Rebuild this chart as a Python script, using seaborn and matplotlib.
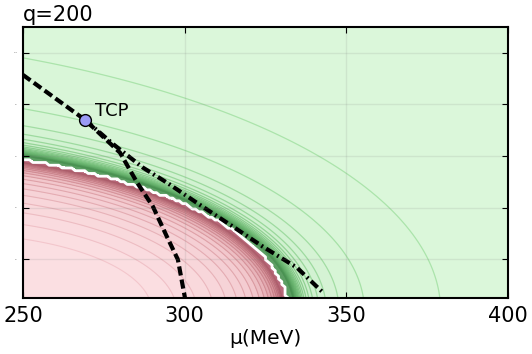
import numpy as np
import matplotlib
matplotlib.use('Agg')
import matplotlib.pyplot as plt
import seaborn as sns
import pandas as pd
from matplotlib.colors import LinearSegmentedColormap

sns.set_style('ticks')
plt.rcParams['font.family'] = ['DejaVu Sans']
plt.rcParams['xtick.direction'] = 'in'
plt.rcParams['ytick.direction'] = 'in'
plt.rcParams['text.color'] = 'black'
plt.rcParams['axes.labelcolor'] = 'black'
plt.rcParams['xtick.color'] = 'black'
plt.rcParams['ytick.color'] = 'black'

# ---- values ----
MU_RANGE = (250, 400)
T_RANGE = (5, 110)
x_ticks = [250, 300, 350, 400]
y_ticks = [20, 40, 60, 80, 100]

# phase boundary (white line): ellipse centre / half axes
BOUND_MU0, BOUND_A, BOUND_B = 200.0, 132.0, 63.3
GREEN_CENTRE = 266.0   # contour lines outside are scaled copies of the boundary
RED_CENTRE = 252.0

# dashed curve (through the TCP)
dash_mu = [250.0, 269.2, 280.0, 285.3, 290.2, 294.5, 297.9, 300.1]
dash_T = [91.4, 74.0, 61.3, 49.7, 40.4, 28.8, 19.9, 5.0]
# dash-dot curve (starting at the TCP)
dd_mu = [269.2, 278.0, 287.1, 294.5, 304.7, 315.0, 324.2, 334.7, 342.8]
dd_T = [74.0, 64.5, 55.5, 49.7, 41.1, 32.6, 24.9, 16.8, 7.1]
tcp_mu, tcp_T = 269.2, 74.0


def scale_factor(mu, T, centre):
    # s such that centre + (p - centre)/s lies on the boundary ellipse
    dx = mu - centre
    dy = T
    cx = centre - BOUND_MU0
    a = dx**2 / BOUND_A**2 + dy**2 / BOUND_B**2 + 1e-12
    b = 2 * cx * dx / BOUND_A**2
    c = cx**2 / BOUND_A**2 - 1
    u = (-b + np.sqrt(b**2 - 4 * a * c)) / (2 * a)
    return 1.0 / u


def ellipse(mu, T):
    return ((mu - BOUND_MU0) / BOUND_A)**2 + (T / BOUND_B)**2


mu = np.linspace(MU_RANGE[0], MU_RANGE[1], 200)
T = np.linspace(T_RANGE[0], T_RANGE[1], 140)
MU, TT = np.meshgrid(mu, T)
outside = ellipse(MU, TT) > 1

s_g = scale_factor(MU, TT, GREEN_CENTRE)
s_r = scale_factor(MU, TT, RED_CENTRE)
z_g = np.ma.masked_where(~outside, 1.0 / np.clip(s_g - 1, 1e-6, None))
z_r = np.ma.masked_where(outside, -np.log(np.clip(1 - s_r, 1e-6, None)))

# grid for the (slightly jagged) white boundary line
mu_c = np.linspace(MU_RANGE[0], MU_RANGE[1], 150)
T_c = np.linspace(T_RANGE[0], T_RANGE[1], 100)
MUc, TTc = np.meshgrid(mu_c, T_c)
out_c = (ellipse(MUc, TTc) > 1).astype(float)

n_g = 26
lev_g = [0] + [1.4 * k for k in range(1, n_g + 1)] + [1e9]
n_r = 18
lev_r = [0] + [0.64 + 0.2 * k for k in range(n_r)] + [1e9]

cm_g = LinearSegmentedColormap.from_list('g', ['#dbf7da', '#c4eac4', '#86c489', '#5c9e63'])
cm_r = LinearSegmentedColormap.from_list('r', ['#fbdfe2', '#f3c9ce', '#d8949c', '#b8687a'])
col_g = [cm_g((k / (len(lev_g) - 2))**1.1) for k in range(len(lev_g) - 1)]
col_r = [cm_r((k / (len(lev_r) - 2))**1.3) for k in range(len(lev_r) - 1)]
line_g = LinearSegmentedColormap.from_list('lg', ['#a6e2a6', '#6cb872', '#4a9252'])
line_r = LinearSegmentedColormap.from_list('lr', ['#f0bcc3', '#d0888f', '#a85a66'])

fig = plt.figure(figsize=(5.32, 3.54), dpi=100)
ax = fig.add_axes([0.0432, 0.158, 0.9118, 0.766])

ax.contourf(MU, TT, z_g, levels=lev_g, colors=col_g)
ax.contourf(MU, TT, z_r, levels=lev_r, colors=col_r)
ax.contour(MU, TT, z_g, levels=lev_g[1:-1], cmap=line_g, linewidths=0.9, alpha=0.9)
ax.contour(MU, TT, z_r, levels=lev_r[1:-1], cmap=line_r, linewidths=0.8, alpha=0.7)
ax.contour(MUc, TTc, out_c, levels=[0.5], colors='white', linewidths=2.0)

df_dash = pd.DataFrame({'mu': dash_mu, 'T': dash_T})
df_dd = pd.DataFrame({'mu': dd_mu, 'T': dd_T})
sns.lineplot(data=df_dash, x='mu', y='T', sort=False, ax=ax, color='black', lw=3.0)
ax.lines[-1].set_dashes((2.2, 1.0))
sns.lineplot(data=df_dd, x='mu', y='T', sort=False, ax=ax, color='black', lw=3.0)
ax.lines[-1].set_dashes((2.2, 0.9, 0.45, 0.9))
ax.plot([tcp_mu], [tcp_T], 'o', ms=8.5, mfc='#9a9af5', mec='black', mew=1.0, zorder=5)
ax.text(tcp_mu + 3.1, tcp_T + 3.6, 'TCP', fontsize=13, va='center', ha='left')

ax.set_xlim(*MU_RANGE)
ax.set_ylim(*T_RANGE)
ax.set_xticks(x_ticks)
ax.set_yticks(y_ticks)
ax.set_yticklabels([str(v) for v in y_ticks], fontsize=1.5, color='gray')
ax.tick_params(axis='x', labelsize=15, top=True, length=4, pad=6)
ax.tick_params(axis='y', right=True, length=4, pad=4)
ax.grid(True, color='gray', alpha=0.15, lw=1.0)
ax.set_axisbelow(False)
for sp in ax.spines.values():
    sp.set_linewidth(1.5)
    sp.set_color('black')
    sp.set_zorder(10)

ax.set_xlabel('μ(MeV)', fontsize=14.5, labelpad=2)
ax.set_ylabel('')
ax.set_title('q=200', loc='left', fontsize=15, pad=4)

fig.savefig('out.png', dpi=100)
